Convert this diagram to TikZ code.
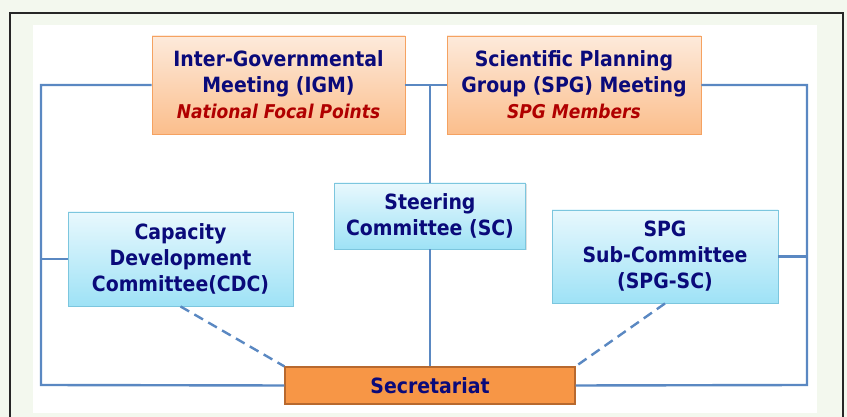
\documentclass[tikz,border=0pt]{standalone}
\usepackage{fontspec}
\setmainfont{DejaVu Sans}[FakeStretch=0.9]
\usepackage{xcolor}
\usepackage{tikz}
\usetikzlibrary{positioning,shadows}

\definecolor{navytext}{HTML}{0A0A7A}
\definecolor{redtext}{HTML}{B00000}
\definecolor{linkblue}{HTML}{5A88C2}
\definecolor{pagebg}{HTML}{F3F8EE}
\definecolor{peachtop}{HTML}{FDEADB}
\definecolor{peachbot}{HTML}{FBBE8C}
\definecolor{peachline}{HTML}{F5A261}
\definecolor{skytop}{HTML}{E8F8FD}
\definecolor{skybot}{HTML}{9EE2F6}
\definecolor{skyline}{HTML}{7CC6DE}
\definecolor{secfill}{HTML}{F79646}
\definecolor{secline}{HTML}{B8692E}

\tikzset{
  topbox/.style={draw=peachline, line width=0.9pt, top color=peachtop, bottom color=peachbot,
    drop shadow={shadow xshift=1pt, shadow yshift=-1.5pt, opacity=0.25},
    align=center, text=navytext, font=\bfseries\fontsize{21}{26}\selectfont},
  combox/.style={draw=skyline, line width=0.9pt, top color=skytop, bottom color=skybot,
    drop shadow={shadow xshift=1pt, shadow yshift=-1.5pt, opacity=0.25},
    align=center, text=navytext, font=\bfseries\fontsize{21}{26}\selectfont},
  secbox/.style={draw=secline, line width=1.2pt, fill=secfill,
    text=navytext, font=\bfseries\fontsize{21}{26}\selectfont},
  link/.style={linkblue, line width=2.4pt},
  dashlink/.style={linkblue, line width=2.4pt, dash pattern=on 10pt off 6pt}
}

\begin{document}
\begin{tikzpicture}[x=1pt,y=1pt]
    % Page
    \fill[pagebg] (0,0) rectangle (847,417);
    \useasboundingbox (0,0) rectangle (847,417);
    \fill[white] (33,4) rectangle (817,392);
    \draw[black!85, line width=2.2pt] (10,0) -- (10,404) -- (843,404) -- (843,0);

    % Boxes
    \node[topbox, minimum width=253, minimum height=98] (igm) at (278.5,332)
        {Inter-Governmental\\Meeting (IGM)\\{\color{redtext}\itshape\fontsize{19}{26}\selectfont National Focal Points}};
    \node[topbox, minimum width=254, minimum height=98] (spg) at (574,332)
        {Scientific Planning\\Group (SPG) Meeting\\{\color{redtext}\itshape\fontsize{19}{26}\selectfont SPG Members}};
    \node[combox, minimum width=191, minimum height=66] (sc) at (430,201) {Steering\\Committee (SC)};
    \node[combox, minimum width=225, minimum height=94] (cdc) at (180.5,158) {Capacity\\Development\\Committee(CDC)};
    \node[combox, minimum width=226, minimum height=93] (spgsc) at (665,160.5) {SPG\\Sub-Committee\\(SPG-SC)};
    \node[secbox, minimum width=290, minimum height=37] (sec) at (430,31.5) {Secretariat};

    % Corners of the loop
    \coordinate (lt) at (41,332);
    \coordinate (lb) at (41,32);
    \coordinate (rt) at (807,332);
    \coordinate (rb) at (807,32);
    \coordinate (mid) at (sc.north |- igm.east);

    % Links
    \draw[link] (igm.west) -- (lt) -- (lb) -- (sec.west);
    \draw[link] (spg.east) -- (rt) -- (rb) -- (sec.east);
    \draw[link] (igm.east) -- (spg.west);
    \draw[link] (mid) -- (sc.north);
    \draw[link] (sc.south) -- (sec.north);
    \draw[link] (cdc.west) -- (cdc.west -| lt);
    \draw[link] (spgsc.east) -- (spgsc.east -| rt);
    \draw[dashlink] (cdc.south) -- (sec.north west);
    \draw[dashlink] (spgsc.south) -- (sec.north east);
\end{tikzpicture}
\end{document}
